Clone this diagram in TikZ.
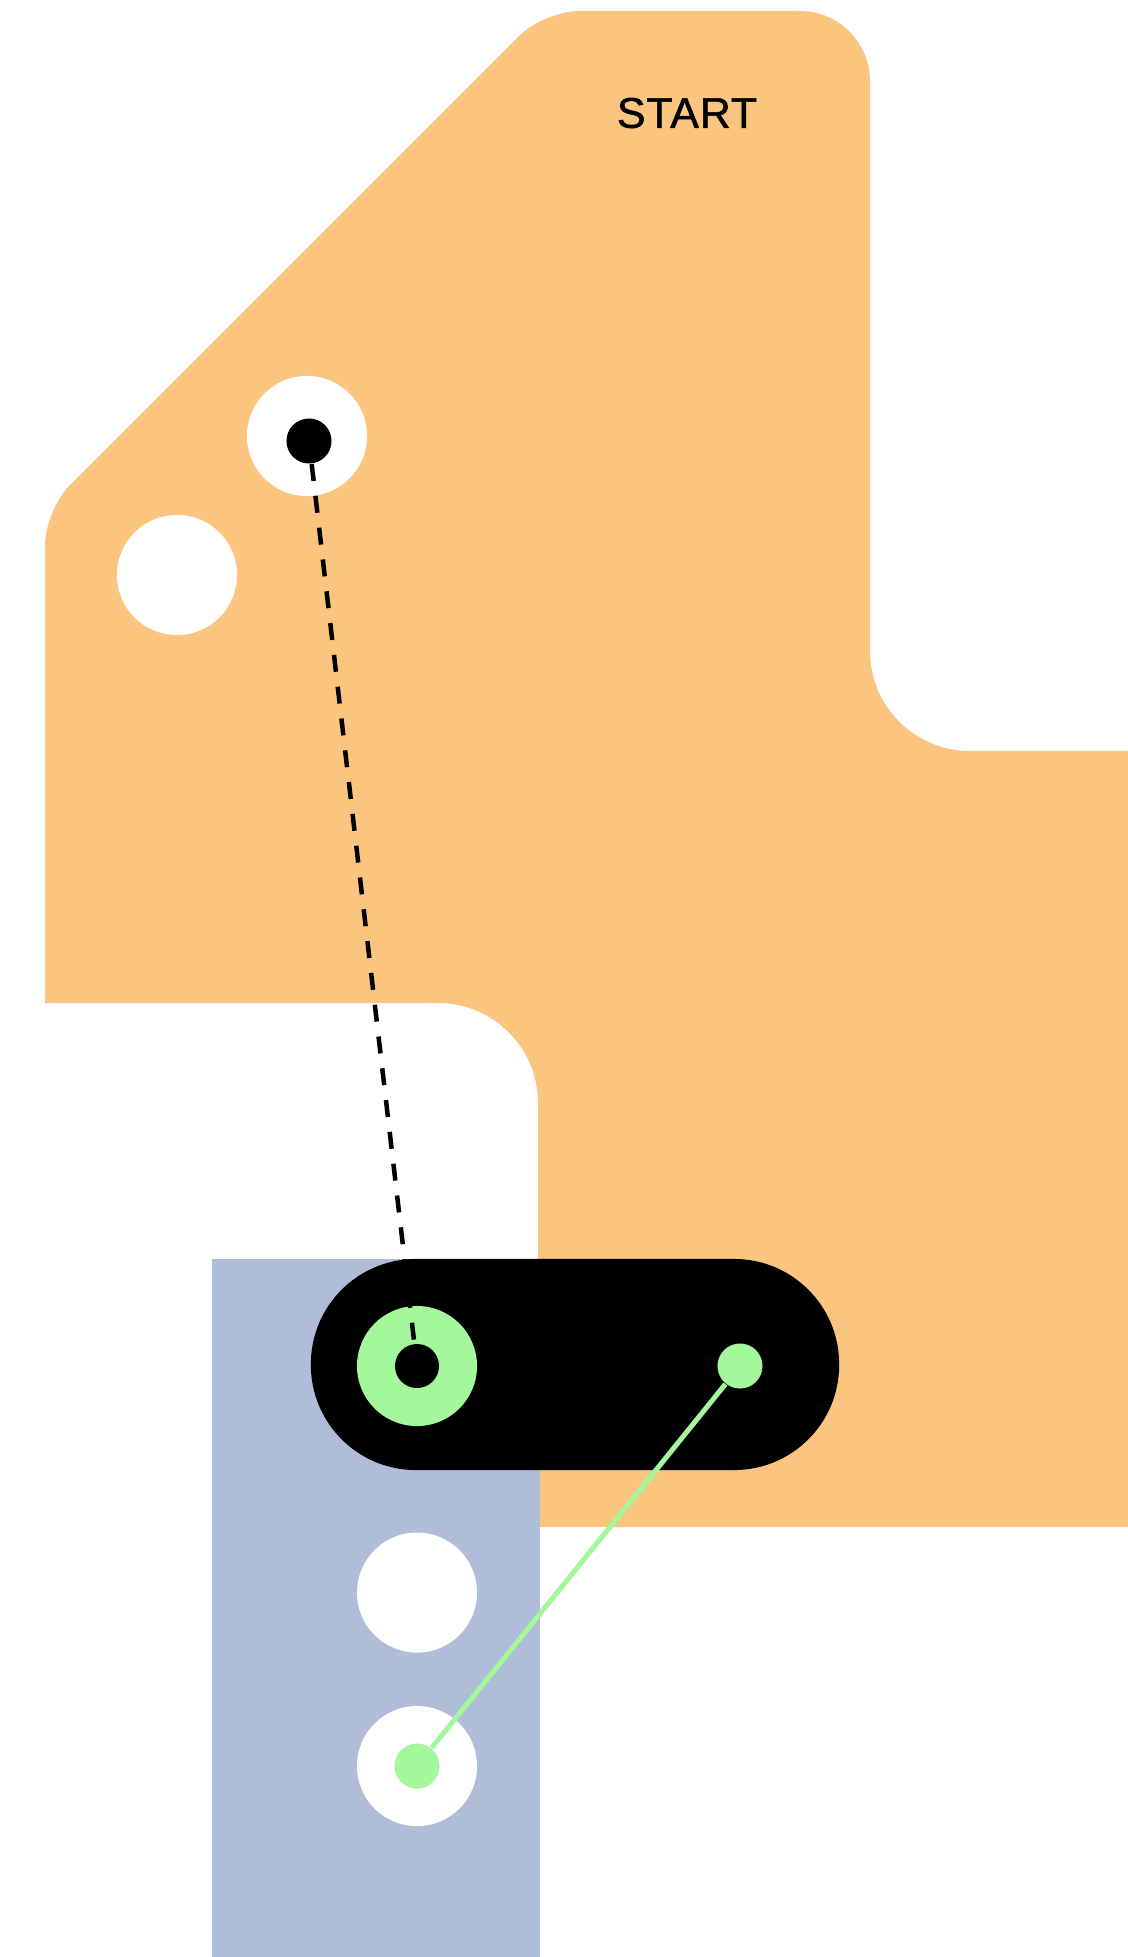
\documentclass[tikz,border=0pt]{standalone}
\usepackage{fontspec}
\setmainfont{Liberation Sans}
\newfontfamily\boardfont[FakeBold=1.2,LetterSpace=2]{Liberation Sans}
\usepackage{xcolor}
\usetikzlibrary{positioning}
\definecolor{boardorange}{RGB}{251,197,128}
\definecolor{laneblue}{RGB}{176,189,216}
\definecolor{glowgreen}{RGB}{164,247,155}

\begin{document}
\begin{tikzpicture}[
  x=0.01cm,y=-0.01cm,
  hole/.style={circle,fill=white,minimum size=1.2cm,inner sep=0pt},
  pip/.style={circle,fill=#1,minimum size=0.45cm,inner sep=0pt},
  pip/.default=black,
  ring/.style={circle,fill=glowgreen,minimum size=1.2cm,inner sep=0pt},
  track/.style={fill=black,rounded corners=1.05cm,minimum width=5.28cm,
                minimum height=2.11cm,inner sep=0pt},
  trail/.style={black,line width=0.045cm,dash pattern=on 0.17cm off 0.15cm},
  wire/.style={glowgreen,line width=0.05cm}
]
\useasboundingbox (0,0) rectangle (1128,1957);

% board and lane
\fill[boardorange] (45,1003) [rounded corners=0.35cm] -- (45,510) -- (544,11)
  [rounded corners=0.7cm] -- (870,11) [rounded corners=1cm] -- (870,751)
  [sharp corners] -- (1128,751) -- (1128,1527) -- (538,1527)
  [rounded corners=1cm] -- (538,1003) [sharp corners] -- cycle;
\fill[laneblue] (212,1259) rectangle (540,1957);

\node[font=\boardfont\fontsize{12.2}{15}\selectfont,inner sep=0pt] (start) at (687,113) {START};

\node[hole] (seat)  at (307,436) {};
\node[hole] (spare) at (177,575) {};
\node[pip]  (token) at (309,441) {};

\node[track] (slider) at (575,1364.5) {};
\node[ring] (ring) at (417,1366) {};
\node[pip,minimum size=0.44cm] (core) at (ring) {};
\node[pip=glowgreen] (knob) at (740,1366) {};

\node[hole,below=1.05cm of ring] (gap) {};
\node[hole,below=0.52cm of gap]  (goal) {};
\node[pip=glowgreen] (mark) at (goal) {};

\draw[trail] (token) -- (core);
\draw[wire]  (knob) -- (mark);
\end{tikzpicture}
\end{document}
